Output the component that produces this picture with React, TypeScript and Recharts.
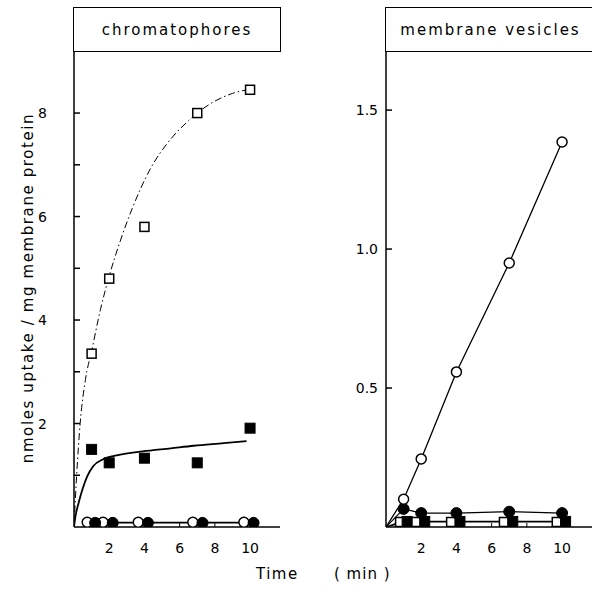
import React from 'react';
import { ComposedChart, Line, Scatter, XAxis, YAxis } from 'recharts';

// ---------- shared ----------
const xTicks = [2, 4, 6, 8, 10];
const chromYTicks = [1, 2, 3, 4, 5, 6, 7, 8];
const chromYLabels = [2, 4, 6, 8];
const vesYTicks = [0.5, 1.0, 1.5];

// ---------- chromatophores ----------
const chromOpenSquares = [
  { x: 1, y: 3.35 }, { x: 2, y: 4.8 }, { x: 4, y: 5.8 }, { x: 7, y: 8.0 }, { x: 10, y: 8.45 },
];
const chromOpenSquaresFit = [
  { x: 0, y: 0 }, { x: 0.15, y: 1.0 }, { x: 0.35, y: 2.0 }, { x: 0.65, y: 2.85 }, { x: 1, y: 3.4 },
  { x: 1.5, y: 4.2 }, { x: 2, y: 4.85 }, { x: 2.6, y: 5.5 }, { x: 3.3, y: 6.15 }, { x: 4.3, y: 6.9 },
  { x: 5.5, y: 7.5 }, { x: 6.5, y: 7.85 }, { x: 7, y: 8.0 }, { x: 8, y: 8.23 }, { x: 9, y: 8.38 }, { x: 10, y: 8.46 },
];
const chromFilledSquares = [
  { x: 1, y: 1.5 }, { x: 2, y: 1.24 }, { x: 4, y: 1.33 }, { x: 7, y: 1.24 }, { x: 10, y: 1.91 },
];
const chromFilledSquaresFit = [
  { x: 0, y: 0 }, { x: 0.08, y: 0.2 }, { x: 0.25, y: 0.45 }, { x: 0.5, y: 0.75 }, { x: 0.75, y: 0.98 },
  { x: 1.1, y: 1.18 }, { x: 1.65, y: 1.31 }, { x: 2.5, y: 1.39 }, { x: 3.9, y: 1.46 }, { x: 5.5, y: 1.52 },
  { x: 6.8, y: 1.57 }, { x: 8.5, y: 1.62 }, { x: 9.8, y: 1.66 },
];
const chromOpenCircles = [
  { x: 0.75, y: 0.09 }, { x: 1.65, y: 0.09 }, { x: 3.65, y: 0.09 }, { x: 6.75, y: 0.09 }, { x: 9.65, y: 0.09 },
];
const chromFilledCircles = [
  { x: 1.2, y: 0.08 }, { x: 2.2, y: 0.08 }, { x: 4.2, y: 0.08 }, { x: 7.3, y: 0.08 }, { x: 10.2, y: 0.08 },
];

// ---------- membrane vesicles ----------
const vesOpenCircles = [
  { x: 0, y: 0 }, { x: 1, y: 0.1 }, { x: 2, y: 0.245 }, { x: 4, y: 0.558 }, { x: 7, y: 0.95 }, { x: 10, y: 1.385 },
];
const vesFilledCircles = [
  { x: 0, y: 0 }, { x: 1, y: 0.065 }, { x: 2, y: 0.05 }, { x: 4, y: 0.05 }, { x: 7, y: 0.055 }, { x: 10, y: 0.05 },
];
const vesOpenSquares = [
  { x: 0, y: 0 }, { x: 0.8, y: 0.018 }, { x: 1.7, y: 0.018 }, { x: 3.7, y: 0.018 }, { x: 6.7, y: 0.018 }, { x: 9.7, y: 0.018 },
];
const vesFilledSquares = [
  { x: 0, y: 0 }, { x: 1.2, y: 0.02 }, { x: 2.2, y: 0.02 }, { x: 4.2, y: 0.02 }, { x: 7.2, y: 0.02 }, { x: 10.2, y: 0.02 },
];

const FONT = '"DejaVu Sans", sans-serif';

// ---------- marker shapes ----------
type Kind = 'openSquare' | 'filledSquare' | 'openCircle' | 'filledCircle';
const drawMarker = (kind: Kind, cx: number, cy: number, key?: any) => {
  if (cx == null || cy == null) return <g key={key} />;
  switch (kind) {
    case 'openSquare':
      return <rect key={key} x={cx - 4.5} y={cy - 4.5} width={9} height={9} fill="#fff" stroke="#000" strokeWidth={1.5} />;
    case 'filledSquare':
      return <rect key={key} x={cx - 5} y={cy - 5} width={10} height={10} fill="#000" stroke="#000" strokeWidth={1} />;
    case 'openCircle':
      return <circle key={key} cx={cx} cy={cy} r={5} fill="#fff" stroke="#000" strokeWidth={1.5} />;
    default:
      return <circle key={key} cx={cx} cy={cy} r={5.5} fill="#000" stroke="#000" strokeWidth={1} />;
  }
};
const scatterShape = (kind: Kind) => (p: any) => drawMarker(kind, p.cx, p.cy);
const lineDot = (kind: Kind) => (p: any) => {
  const k = `${kind}-${p.index}`;
  if (p.payload && p.payload.x === 0) return <g key={k} />;
  return drawMarker(kind, p.cx, p.cy, k);
};

// ---------- tick labels (tick marks are drawn by the axis, pointing inward) ----------
const ChromYTick = (p: any) => {
  const { x, y, payload } = p;
  const v = payload.value;
  if (!chromYLabels.includes(v)) return <g />;
  return <text x={x} y={y + 5} textAnchor="end" fontSize={14} fontFamily={FONT} fill="#000">{v}</text>;
};
const VesYTick = (p: any) => {
  const { x, y, payload } = p;
  return <text x={x} y={y + 5} textAnchor="end" fontSize={14} fontFamily={FONT} fill="#000">{payload.value.toFixed(1)}</text>;
};
const XTick = (p: any) => {
  const { x, y, payload } = p;
  return <text x={x} y={y + 30} textAnchor="middle" fontSize={14} fontFamily={FONT} fill="#000">{payload.value}</text>;
};

const axisLine = { stroke: '#000', strokeWidth: 1.5 };
const yTickLine = { stroke: '#000', strokeWidth: 1.5 };
const xTickLine = { stroke: '#000', strokeWidth: 1 };
const X_DOMAIN: [number, number] = [0, 11.7];

const headerStyle = (left: number, width: number, rightBorder: boolean): React.CSSProperties => ({
  position: 'absolute', left, top: 7, width, height: 45, boxSizing: 'border-box',
  borderTop: '1.5px solid #000', borderBottom: '1.5px solid #000', borderLeft: '1.5px solid #000',
  borderRight: rightBorder ? '1.5px solid #000' : 'none',
  display: 'flex', alignItems: 'center', justifyContent: 'center',
  fontFamily: FONT, fontSize: 15, letterSpacing: 2, color: '#000', background: '#fff',
});

export default function App() {
  return (
    <div style={{ position: 'absolute', left: 0, top: 0, width: 592, height: 600, background: '#fff', overflow: 'hidden' }}>
      {/* left panel */}
      <div style={{ position: 'absolute', left: 0, top: 0 }}>
        <ComposedChart width={300} height={600} margin={{ top: 52, right: 20, bottom: 43, left: 0 }}>
          <XAxis type="number" dataKey="x" domain={X_DOMAIN} ticks={xTicks} allowDataOverflow
            axisLine={axisLine} tickLine={xTickLine} tickSize={-4} tickMargin={0} tick={<XTick />} height={30} />
          <YAxis type="number" dataKey="y" domain={[0, 9.18]} ticks={chromYTicks} allowDataOverflow
            axisLine={axisLine} tickLine={yTickLine} tickSize={-6} tickMargin={33} tick={<ChromYTick />} width={74} />
          <YAxis yAxisId="border" orientation="right" type="number" domain={[0, 1]} width={0}
            axisLine={axisLine} tick={false} tickLine={false} />
          <Line data={chromOpenSquaresFit} dataKey="y" type="monotone" dot={false} stroke="#000" strokeWidth={1}
            strokeDasharray="7 3 1.5 3" isAnimationActive={false} />
          <Line data={chromFilledSquaresFit} dataKey="y" type="monotone" dot={false} stroke="#000" strokeWidth={1.8}
            isAnimationActive={false} />
          <Line data={chromOpenCircles} dataKey="y" type="linear" dot={lineDot('openCircle')} stroke="#000" strokeWidth={1.2}
            isAnimationActive={false} />
          <Line data={chromFilledCircles} dataKey="y" type="linear" dot={lineDot('filledCircle')} stroke="#000" strokeWidth={1.2}
            isAnimationActive={false} />
          <Scatter data={chromOpenSquares} dataKey="y" shape={scatterShape('openSquare')} isAnimationActive={false} />
          <Scatter data={chromFilledSquares} dataKey="y" shape={scatterShape('filledSquare')} isAnimationActive={false} />
        </ComposedChart>
      </div>
      <div style={headerStyle(73, 208, true)}>chromatophores</div>

      {/* right panel */}
      <div style={{ position: 'absolute', left: 300, top: 0 }}>
        <ComposedChart width={292} height={600} margin={{ top: 52, right: 0, bottom: 43, left: 0 }}>
          <XAxis type="number" dataKey="x" domain={X_DOMAIN} ticks={xTicks} allowDataOverflow
            axisLine={axisLine} tickLine={xTickLine} tickSize={-4} tickMargin={0} tick={<XTick />} height={30} />
          <YAxis type="number" dataKey="y" domain={[0, 1.709]} ticks={vesYTicks} allowDataOverflow
            axisLine={axisLine} tickLine={yTickLine} tickSize={-6} tickMargin={14} tick={<VesYTick />} width={86} />
          <Line data={vesOpenSquares} dataKey="y" type="linear" dot={lineDot('openSquare')} stroke="#000" strokeWidth={1.2}
            isAnimationActive={false} />
          <Line data={vesFilledSquares} dataKey="y" type="linear" dot={lineDot('filledSquare')} stroke="#000" strokeWidth={1.2}
            isAnimationActive={false} />
          <Line data={vesFilledCircles} dataKey="y" type="linear" dot={lineDot('filledCircle')} stroke="#000" strokeWidth={1.2}
            isAnimationActive={false} />
          <Line data={vesOpenCircles} dataKey="y" type="linear" dot={lineDot('openCircle')} stroke="#000" strokeWidth={1.3}
            isAnimationActive={false} />
        </ComposedChart>
      </div>
      <div style={headerStyle(385, 210, false)}>membrane vesicles</div>

      {/* axis titles */}
      <div style={{
        position: 'absolute', left: 28 - 200, top: 288 - 10, width: 400, height: 20, lineHeight: '20px',
        transform: 'rotate(-90deg)', textAlign: 'center', fontFamily: FONT, fontSize: 15, letterSpacing: 1.6, color: '#000',
        whiteSpace: 'nowrap',
      }}>nmoles uptake / mg membrane protein</div>
      <div style={{ position: 'absolute', left: 256, top: 565, fontFamily: FONT, fontSize: 15, letterSpacing: 1.5, color: '#000' }}>Time</div>
      <div style={{ position: 'absolute', left: 334, top: 565, fontFamily: FONT, fontSize: 15, letterSpacing: 1, color: '#000', whiteSpace: 'pre' }}>( min )</div>
    </div>
  );
}
